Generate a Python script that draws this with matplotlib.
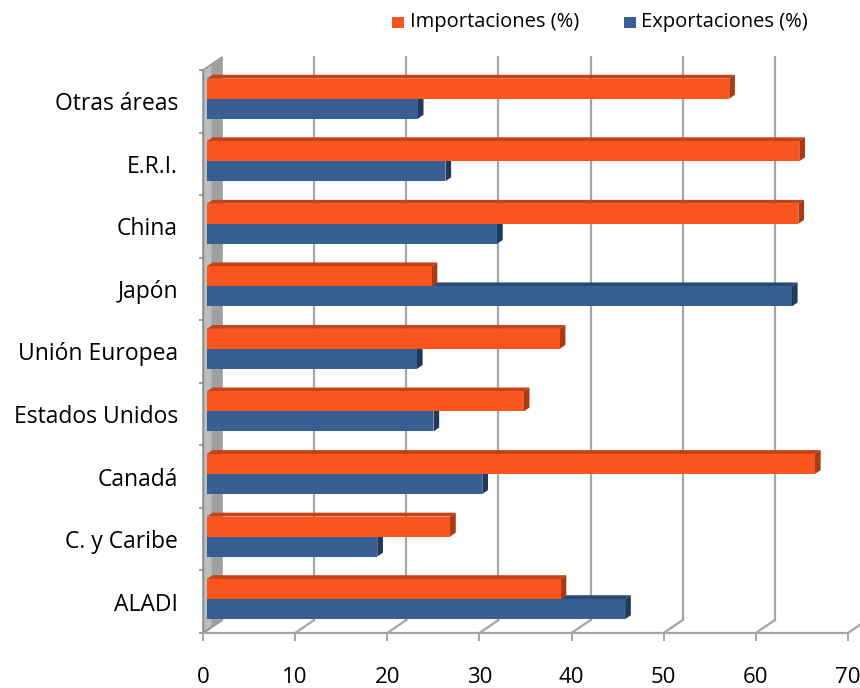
import matplotlib
matplotlib.use("Agg")
import matplotlib.pyplot as plt
from matplotlib.patches import Polygon, Rectangle

plt.rcParams['font.family'] = ['Open Sans', 'DejaVu Sans']

# data, bottom to top
categories = ['ALADI', 'C. y Caribe', 'Canadá', 'Estados Unidos', 'Unión Europea',
              'Japón', 'China', 'E.R.I.', 'Otras áreas']
importaciones = [38.4, 26.4, 66.0, 34.4, 38.3, 24.4, 64.2, 64.3, 56.7]
exportaciones = [45.4, 18.5, 29.9, 24.6, 22.8, 63.5, 31.5, 25.9, 22.9]
xticks = [0, 10, 20, 30, 40, 50, 60, 70]

c_imp = ('#FA551E', '#C4441A', '#A93A14')   # front, top, side
c_exp = ('#375F91', '#2A4A72', '#1F3A5C')
grid_c = '#A6A6A6'

fig = plt.figure(figsize=(8.6, 6.88), dpi=100)
ax = fig.add_axes([203 / 860, 55 / 688, 645 / 860, 563 / 688])
ax.set_xlim(0, 70)
ax.set_ylim(-0.5, len(categories) - 0.5)

# depth offset (front plane -> back wall) in data units
DX = 19 / (645 / 70)
DY = 13 / (563 / len(categories))
top = len(categories) - 0.5


def off(x, y, f):
    return (x + DX * f, y + DY * f)


# back wall gridlines and floor diagonals
for t in xticks:
    ax.plot([t, t + DX], [-0.5, -0.5 + DY], color=grid_c, lw=1.6, clip_on=False, zorder=1)
    if t > 0:
        ax.plot([t + DX, t + DX], [-0.5 + DY, top + DY], color=grid_c, lw=1.6,
                clip_on=False, zorder=1)

# left wall (light front strip + darker inner part)
wall = Polygon([(0, -0.5), (0, top), (DX, top + DY), (DX, -0.5 + DY)],
               closed=True, facecolor='#BDBDBD', edgecolor='#8C8C8C', lw=1.0,
               clip_on=False, zorder=2)
ax.add_patch(wall)
wall2 = Polygon([(DX * 0.45, -0.5 + DY * 0.45), (DX * 0.45, top + DY * 0.45),
                 (DX, top + DY), (DX, -0.5 + DY)],
                closed=True, facecolor='#A0A0A0', edgecolor='none',
                clip_on=False, zorder=2)
ax.add_patch(wall2)

# 3D-looking bars
h = 0.32
f1, f2 = 0.2, 0.5


def bar3d(v, y0, cols):
    y1 = y0 + h
    front = [off(0, y0, f1), off(v, y0, f1), off(v, y1, f1), off(0, y1, f1)]
    topf = [off(0, y1, f1), off(v, y1, f1), off(v, y1, f2), off(0, y1, f2)]
    side = [off(v, y0, f1), off(v, y0, f2), off(v, y1, f2), off(v, y1, f1)]
    ax.add_patch(Polygon(topf, closed=True, facecolor=cols[1], edgecolor='none',
                         clip_on=False, zorder=3))
    ax.add_patch(Polygon(side, closed=True, facecolor=cols[2], edgecolor='none',
                         clip_on=False, zorder=3))
    ax.add_patch(Polygon(front, closed=True, facecolor=cols[0], edgecolor='none',
                         clip_on=False, zorder=4))


for i in range(len(categories) - 1, -1, -1):
    bar3d(exportaciones[i], i - h, c_exp)
    bar3d(importaciones[i], i, c_imp)

# axes styling
for s in ['top', 'right']:
    ax.spines[s].set_visible(False)
ax.spines['bottom'].set_color(grid_c)
ax.spines['bottom'].set_linewidth(1.6)
ax.spines['left'].set_color('#8C8C8C')
ax.spines['left'].set_linewidth(1.0)
ax.patch.set_visible(False)

ax.set_xticks(xticks)
ax.set_xticklabels([str(t) for t in xticks], fontsize=16)
ax.tick_params(axis='x', length=5.8, width=1.4, color=grid_c, pad=19)

ax.set_yticks(range(len(categories)))
ax.set_yticklabels(categories, fontsize=16.5)
ax.set_yticks([i - 0.5 for i in range(len(categories) + 1)], minor=True)
ax.tick_params(axis='y', which='major', length=0, pad=18)
ax.tick_params(axis='y', which='minor', length=3, width=1.2, color='#8C8C8C')

# legend
fig.add_artist(Rectangle((392 / 860, 1 - 28 / 688), 12 / 860, 11 / 688,
                         transform=fig.transFigure, facecolor=c_imp[0], edgecolor='none'))
fig.text(410 / 860, 1 - 22 / 688, 'Importaciones (%)', fontsize=14.5, va='center', ha='left')
fig.add_artist(Rectangle((624 / 860, 1 - 28 / 688), 12 / 860, 11 / 688,
                         transform=fig.transFigure, facecolor=c_exp[0], edgecolor='none'))
fig.text(641 / 860, 1 - 22 / 688, 'Exportaciones (%)', fontsize=14.5, va='center', ha='left')

fig.savefig('out.png', dpi=100)
